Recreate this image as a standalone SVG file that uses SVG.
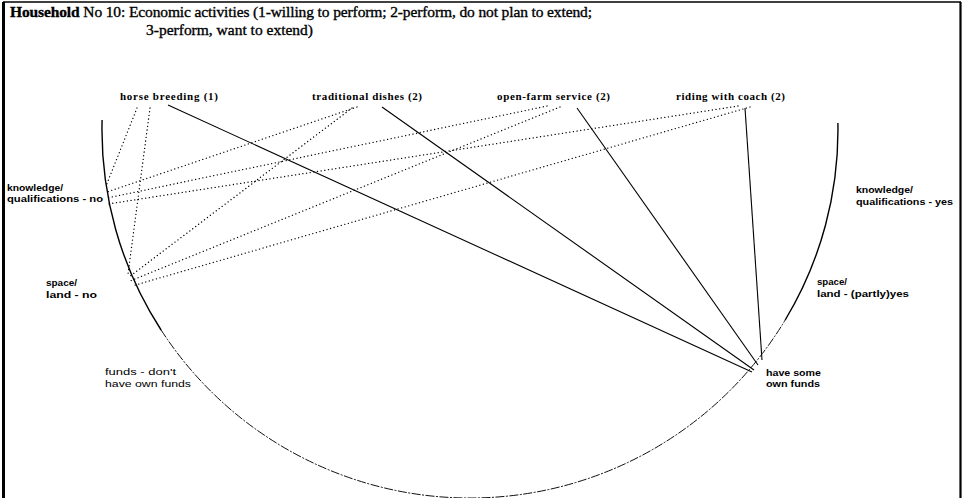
<svg xmlns="http://www.w3.org/2000/svg" width="964" height="498" viewBox="0 0 964 498">
<style>
.title{font-family:"Liberation Serif",serif;font-size:15.5px;fill:#000;stroke:#000;stroke-width:0.35}
.act{font-family:"Liberation Serif",serif;font-size:11px;font-weight:bold;fill:#000}
.lab{font-family:"Liberation Sans",sans-serif;font-size:9.5px;fill:#000}
.b{font-weight:bold}
.dot{stroke:#000;stroke-width:1.3;stroke-dasharray:0.1 3.6;stroke-linecap:round;fill:none}
.sol{stroke:#000;stroke-width:1.1;fill:none}
.arc{stroke:#000;stroke-width:1.4;fill:none}
.arcl{stroke:#111;stroke-width:1;fill:none;stroke-dasharray:9 1.5 2 1.5}
</style>
<rect width="964" height="498" fill="#fff"/>
<g id="frame">
<line x1="3" y1="2" x2="961" y2="2" stroke="#000" stroke-width="1.5"/>
<line x1="3.5" y1="2" x2="3.5" y2="498" stroke="#000" stroke-width="3"/>
<line x1="960.5" y1="2" x2="960.5" y2="498" stroke="#000" stroke-width="2.2"/>
</g>
<g id="title">
<text class="title" x="10" y="17" textLength="582" lengthAdjust="spacing"><tspan font-weight="bold">Household</tspan> No 10: Economic activities (1-willing to perform; 2-perform, do not plan to extend;</text>
<text class="title" x="146" y="35" textLength="167" lengthAdjust="spacing">3-perform, want to extend)</text>
</g>
<g id="circle">
<path class="arc" d="M102.1,120 A368,368 0 0 0 161.1,330"/>
<path class="arcl" d="M161.1,330 A368,368 0 0 0 785.2,320"/>
<path class="arc" d="M785.2,320 A368,368 0 0 0 837.9,123"/>
</g>
<g id="connectors">
<line class="dot" x1="137" y1="108" x2="106" y2="186"/>
<line class="dot" x1="150" y1="108" x2="128" y2="274"/>
<line class="dot" x1="357" y1="107" x2="107" y2="192"/>
<line class="dot" x1="352" y1="108" x2="129" y2="277"/>
<line class="dot" x1="547" y1="106" x2="107" y2="198"/>
<line class="dot" x1="560" y1="107" x2="130" y2="281"/>
<line class="dot" x1="738" y1="106" x2="108" y2="204"/>
<line class="dot" x1="750" y1="107" x2="132" y2="286"/>
<line class="sol" x1="168" y1="105" x2="752" y2="372"/>
<line class="sol" x1="382" y1="107" x2="754" y2="370"/>
<line class="sol" x1="577" y1="108" x2="758" y2="365"/>
<line class="sol" x1="745" y1="108" x2="762" y2="360"/>
</g>
<g id="horse-breeding"><text class="act" x="120" y="100" textLength="98" lengthAdjust="spacing">horse breeding (1)</text></g>
<g id="traditional-dishes"><text class="act" x="312" y="100" textLength="110" lengthAdjust="spacing">traditional dishes (2)</text></g>
<g id="open-farm-service"><text class="act" x="497" y="100" textLength="113" lengthAdjust="spacing">open-farm service (2)</text></g>
<g id="riding-with-coach"><text class="act" x="676" y="100" textLength="109" lengthAdjust="spacing">riding with coach (2)</text></g>
<g id="knowledge-no">
<text class="lab b" x="7" y="191" textLength="56" lengthAdjust="spacingAndGlyphs">knowledge/</text>
<text class="lab b" x="7" y="202" textLength="96" lengthAdjust="spacingAndGlyphs">qualifications  -  no</text>
</g>
<g id="space-no">
<text class="lab b" x="46" y="286" textLength="31" lengthAdjust="spacingAndGlyphs">space/</text>
<text class="lab b" x="46" y="298" textLength="51" lengthAdjust="spacingAndGlyphs">land  -  no</text>
</g>
<g id="funds-no">
<text class="lab" x="105" y="375" textLength="71" lengthAdjust="spacingAndGlyphs">funds  -  don't</text>
<text class="lab" x="105" y="387" textLength="86" lengthAdjust="spacingAndGlyphs">have  own  funds</text>
</g>
<g id="knowledge-yes">
<text class="lab b" x="856" y="193" textLength="57" lengthAdjust="spacingAndGlyphs">knowledge/</text>
<text class="lab b" x="856" y="205" textLength="97" lengthAdjust="spacingAndGlyphs">qualifications  -  yes</text>
</g>
<g id="space-yes">
<text class="lab b" x="817" y="285" textLength="30" lengthAdjust="spacingAndGlyphs">space/</text>
<text class="lab b" x="817" y="297" textLength="92" lengthAdjust="spacingAndGlyphs">land  -  (partly)yes</text>
</g>
<g id="funds-yes">
<text class="lab b" x="766" y="376" textLength="55" lengthAdjust="spacingAndGlyphs">have  some</text>
<text class="lab b" x="766" y="387" textLength="54" lengthAdjust="spacingAndGlyphs">own  funds</text>
</g>
</svg>
